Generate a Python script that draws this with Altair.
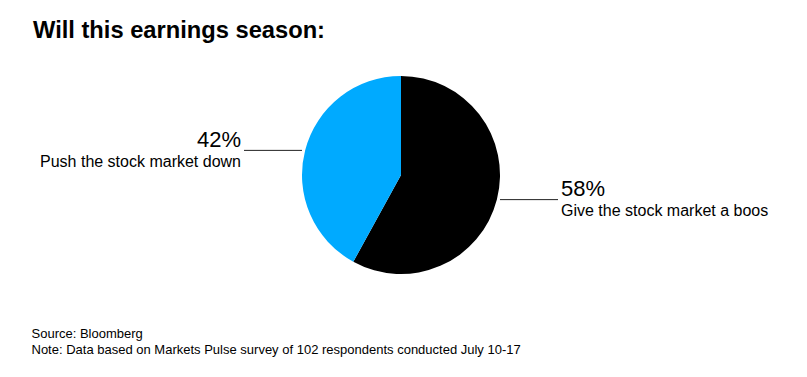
import altair as alt
import pandas as pd

# ---- data ----
labels = ["Give the stock market a boos", "Push the stock market down"]
values = [58, 42]
pct_text = ["58%", "42%"]
order = [1, 2]
colors = ["#000000", "#00AAFF"]

title_text = "Will this earnings season:"
source_text = "Source: Bloomberg"
note_text = "Note: Data based on Markets Pulse survey of 102 respondents conducted July 10-17"

# ---- layout constants ----
W, H = 791, 361
CX, CY, R = 393, 167, 99
LEAD = 58
FONT = "Liberation Sans"

df = pd.DataFrame({"label": labels, "value": values, "pct": pct_text, "order": order})
one = pd.DataFrame({"t": [0]})

base = alt.Chart(df)

pie = base.mark_arc(radius=R, stroke=None).encode(
    theta=alt.Theta("value:Q", stack=True),
    color=alt.Color("label:N", scale=alt.Scale(domain=labels, range=colors), legend=None),
    order=alt.Order("order:Q"),
    x=alt.value(CX),
    y=alt.value(CY),
)

geo = base.transform_window(
    cum="sum(value)", sort=[alt.SortField("order")]
).transform_joinaggregate(
    total="sum(value)"
).transform_calculate(
    mid=f"(datum.cum - datum.value/2) / datum.total * 2 * PI"
).transform_calculate(
    side="sin(datum.mid) < 0 ? -1 : 1",
    ey=f"{CY} - {R} * cos(datum.mid)",
).transform_calculate(
    x1=f"{CX} + datum.side * {R}",
    x2=f"{CX} + datum.side * {R + LEAD}",
    tx=f"{CX} + datum.side * {R + LEAD + 3}",
    ty1="datum.ey - 3.5",
    ty2="datum.ey + 16.5",
)

rules = geo.mark_rule(color="#222222", strokeWidth=1).encode(
    x=alt.X("x1:Q", scale=None),
    x2="x2:Q",
    y=alt.Y("ey:Q", scale=None),
)

def txt(side, align):
    g = geo.transform_filter(f"datum.side == {side}")
    p = g.mark_text(align=align, baseline="alphabetic", font=FONT, fontSize=22, color="#000000").encode(
        x=alt.X("tx:Q", scale=None), y=alt.Y("ty1:Q", scale=None), text="pct:N")
    l = g.mark_text(align=align, baseline="alphabetic", font=FONT, fontSize=16, color="#000000").encode(
        x=alt.X("tx:Q", scale=None), y=alt.Y("ty2:Q", scale=None), text="label:N")
    return p + l

title = alt.Chart(one).mark_text(
    align="left", baseline="alphabetic", font=FONT, fontSize=23.7, fontWeight="bold", color="#000000"
).encode(x=alt.value(25), y=alt.value(29.7), text=alt.value(title_text))

src = alt.Chart(one).mark_text(
    align="left", baseline="alphabetic", font=FONT, fontSize=13, color="#000000"
).encode(x=alt.value(23.5), y=alt.value(330.3), text=alt.value(source_text))

note = alt.Chart(one).mark_text(
    align="left", baseline="alphabetic", font=FONT, fontSize=13, color="#000000"
).encode(x=alt.value(23.5), y=alt.value(346.3), text=alt.value(note_text))

chart = alt.layer(pie, rules, txt(-1, "right"), txt(1, "left"), title, src, note).properties(
    width=W, height=H, autosize="none", padding=0, background="white"
).configure_view(stroke=None)

chart.save("out.html", embed_options={"renderer": "svg", "actions": False})
